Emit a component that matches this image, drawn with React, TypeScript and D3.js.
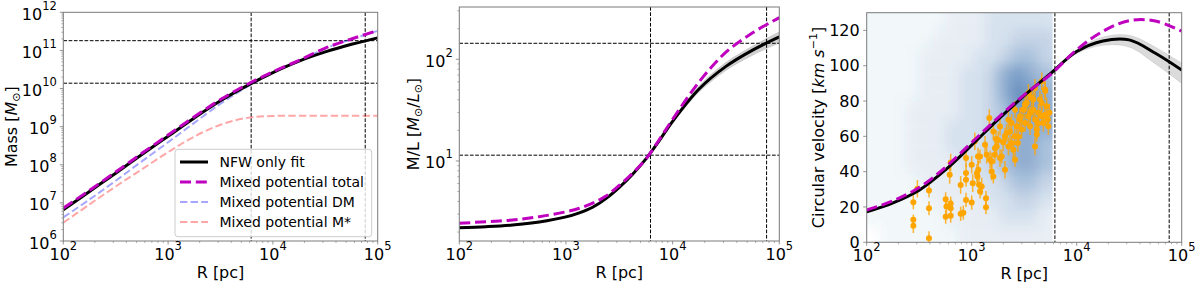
import React from 'react';
import * as d3 from 'd3';

const FONT = "'DejaVu Sans', sans-serif";

// ---------- DATA ----------
const gridR = [100, 178, 316, 562, 1000, 1778, 3162, 5623, 10000, 17783, 31623, 56234, 100000];

// Panel 1: enclosed mass, log10(M / Msun)
const logMassNFW = [6.82, 7.30, 7.78, 8.27, 8.75, 9.23, 9.68, 10.07, 10.42, 10.72, 10.96, 11.16, 11.33];
const logMassTotal = [6.86, 7.33, 7.81, 8.30, 8.78, 9.26, 9.71, 10.10, 10.44, 10.74, 11.06, 11.30, 11.52];
const logMassDM = [6.62, 7.09, 7.58, 8.09, 8.59, 9.10, 9.60, 10.04, 10.41, 10.725, 11.053, 11.296, 11.514];
const logMassStar = [6.48, 6.96, 7.43, 7.88, 8.33, 8.74, 9.05, 9.23, 9.28, 9.285, 9.285, 9.285, 9.285];

// Panel 2: mass-to-light ratio, log10(M/L), on a finer radius grid
const mlR = [100, 178, 316, 562, 1000, 1334, 1778, 2371, 3162, 4217, 5623, 7499, 10000, 17783, 31623, 56234, 100000];
const logMLNFW = [0.344, 0.354, 0.37, 0.40, 0.45, 0.49, 0.545, 0.63, 0.74, 0.87, 1.02, 1.20, 1.39, 1.71, 1.93, 2.09, 2.22];
const logMLNFWLow = [0.336, 0.346, 0.362, 0.392, 0.442, 0.482, 0.537, 0.622, 0.732, 0.86, 1.005, 1.185, 1.37, 1.68, 1.89, 2.04, 2.16];
const logMLNFWHigh = [0.352, 0.362, 0.378, 0.408, 0.458, 0.498, 0.553, 0.638, 0.748, 0.88, 1.035, 1.215, 1.41, 1.74, 1.97, 2.13, 2.27];
const logMLTotal = [0.387, 0.403, 0.42, 0.452, 0.50, 0.535, 0.585, 0.655, 0.76, 0.88, 1.02, 1.21, 1.41, 1.78, 2.07, 2.26, 2.41];

// Panel 3: circular velocity (km/s)
const vcNFW = [17.2, 22.3, 29.5, 41, 55, 69.5, 83, 95.5, 108, 114.0, 114.6, 107, 97.5];
const vcNFWLow = [16.9, 22.0, 29.1, 40.6, 54.6, 69.1, 82.6, 95, 106.8, 111.5, 110.5, 101, 90];
const vcNFWHigh = [17.5, 22.6, 29.9, 41.4, 55.4, 69.9, 83.4, 96, 109.2, 116.3, 117.2, 110.5, 101.5];
const vcTotal = [18.3, 23.5, 31, 42.5, 56.5, 70.5, 83.5, 95, 109, 119.5, 125.5, 125.3, 119.5];

// reference lines
const refR = [6200, 76000];
const refMass = [1.8e11, 1.38e10];
const refML = [143.6, 11.4];

// observed points (R [pc], v [km/s], error)
const obsR = [278, 278, 278, 304, 392, 392, 392, 565, 575, 565, 631, 617, 631, 631, 631, 785, 785, 832, 883, 883,
  883, 883, 1000, 1000, 1023, 1072, 1122, 1135, 1148, 1156, 1175, 1199, 1202, 1245, 1340, 1368, 1368, 1390, 1472, 1496,
  1549, 1549, 1607, 1607, 1660, 1667, 1706, 1730, 1795, 1862, 1862, 1932, 1995, 2075, 2075, 2153, 2234, 2239, 2317, 2399,
  2404, 2495, 2570, 2588, 2588, 2692, 2754, 2780, 2884, 2884, 2992, 3090, 3221, 3221, 3342, 3467, 3467, 3597, 3597, 3715,
  3864, 3864, 4009, 4009, 4009, 4169, 4169, 4315, 4315, 4467, 4645, 4645, 4645, 4819, 4989, 4989, 5012, 5176, 5297, 5370, 5495];
const obsV = [22.7, 12.7, 9.3, 30.3, 29.3, 19.3, 2.3, 24.4, 20.2, 14.5, 45.2, 38.2, 22.0, 19.3, 15.0, 32.5, 16.1, 16.8, 47.7, 39.2,
  35.4, 24.0, 22.5, 43.9, 33.5, 57.2, 39.2, 37.3, 48.6, 41.1, 32.6, 48.6, 28.8, 31.6, 55.2, 25.0, 19.9, 49.6, 70.4, 46.8,
  45.8, 40.1, 37.3, 62.8, 49.6, 53.3, 58.5, 54.3, 57.9, 47.7, 65.5, 48.6, 56.6, 59.8, 41.1, 61.9, 69.4, 54.3, 62.8, 67.6,
  56.2, 52.4, 60.0, 75.1, 46.8, 65.7, 56.2, 59.8, 71.3, 69.5, 63.8, 75.1, 67.6, 77.9, 78.9, 71.4, 84.6, 65.7, 73.2, 81.8,
  75.1, 80.8, 69.5, 87.4, 54.3, 63.8, 61.0, 73.3, 67.4, 80.8, 71.4, 78.9, 91.2, 67.6, 86.5, 72.2, 85.6, 77.0, 69.5, 65.7, 73.3];
const obsErr = [4, 3, 4, 5, 4, 4, 4, 4, 5, 4, 5, 5, 4, 5, 4, 5, 4, 4, 5, 5,
  4, 4, 4, 5, 5, 5, 5, 4, 5, 5, 5, 4, 4, 5, 5, 4, 4, 5, 5, 5,
  5, 5, 4, 5, 5, 5, 5, 4, 5, 5, 5, 4, 5, 5, 5, 5, 5, 5, 5, 5,
  4, 5, 5, 5, 4, 5, 5, 4, 5, 5, 5, 5, 5, 5, 5, 5, 5, 5, 4, 5,
  5, 5, 5, 5, 5, 5, 4, 5, 5, 5, 5, 5, 5, 5, 5, 5, 5, 5, 5, 5, 5];

// background cloud density (rows: v bins from top 120-130 down to 0-10; cols: log10 R bins 2.0..3.75 step 0.125)
const cloudLogR = [2.0, 2.125, 2.25, 2.375, 2.5, 2.625, 2.75, 2.875, 3.0, 3.125, 3.25, 3.375, 3.5, 3.625, 3.75];
const cloudV = [130, 120, 110, 100, 90, 80, 70, 60, 50, 40, 30, 20, 10, 0];
const cloudDensity = [
  [1, 1, 1, 1, 1, 1, 2, 2, 2, 3, 3, 3, 3, 3],
  [1, 1, 1, 1, 1, 2, 2, 2, 2, 3, 3, 4, 4, 4],
  [1, 1, 1, 1, 2, 2, 2, 2, 3, 3, 4, 5, 5, 4],
  [1, 1, 1, 1, 2, 2, 2, 3, 3, 4, 6, 7, 6, 5],
  [1, 1, 1, 1, 2, 2, 2, 3, 3, 4, 6, 8, 7, 6],
  [1, 1, 1, 2, 2, 2, 2, 3, 3, 4, 5, 7, 7, 6],
  [1, 1, 1, 2, 2, 2, 3, 3, 3, 4, 5, 6, 6, 6],
  [1, 1, 1, 2, 2, 2, 3, 3, 3, 4, 5, 6, 6, 5],
  [1, 1, 1, 2, 2, 2, 2, 3, 3, 4, 5, 6, 6, 5],
  [1, 1, 1, 1, 2, 2, 2, 2, 3, 3, 4, 5, 5, 4],
  [1, 1, 1, 1, 1, 2, 2, 2, 2, 3, 3, 4, 4, 3],
  [1, 1, 1, 1, 1, 1, 2, 2, 2, 2, 3, 3, 3, 2],
  [0, 1, 1, 1, 1, 1, 1, 2, 2, 2, 2, 2, 2, 2],
];
const cloudOpacity = [0, 0.05, 0.11, 0.18, 0.27, 0.38, 0.5, 0.6, 0.7];

const xTickExps = [2, 3, 4, 5];
const massTickExps = [6, 7, 8, 9, 10, 11, 12];
const mlTickExps = [1, 2];
const vTicks = [0, 20, 40, 60, 80, 100, 120];

const legendLabels = ['NFW only fit', 'Mixed potential total', 'Mixed potential DM', 'Mixed potential M*'];

// ---------- LAYOUT ----------
const P1 = { x0: 63.3, x1: 377.7, y0: 12.3, y1: 241 };
const P2 = { x0: 459.3, x1: 779.3, y0: 7, y1: 241 };
const P3 = { x0: 866.7, x1: 1181.7, y0: 12.7, y1: 242.3 };

const FRAME = '#7a7a7a';
const MAG = '#bf00bf';

type Sc = (v: number) => number;

function minorLog(lo: number, hi: number): number[] {
  const out: number[] = [];
  for (let e = Math.floor(Math.log10(lo)); e <= Math.ceil(Math.log10(hi)); e++) {
    for (let k = 2; k <= 9; k++) {
      const v = k * Math.pow(10, e);
      if (v >= lo * 1.0001 && v <= hi * 0.9999) out.push(v);
    }
  }
  return out;
}

function PowLabel({ x, y, exp, anchor }: { x: number; y: number; exp: number; anchor: string }) {
  return (
    <text x={x} y={y} textAnchor={anchor} fontFamily={FONT} fontSize={16} fill="#000">
      <tspan>10</tspan>
      <tspan dy={-10} fontSize={11.5}>{exp}</tspan>
    </text>
  );
}

function Frame({ p }: { p: typeof P1 }) {
  return <rect x={p.x0} y={p.y0} width={p.x1 - p.x0} height={p.y1 - p.y0} fill="none" stroke={FRAME} strokeWidth={1} />;
}

function LogXAxis({ p, x }: { p: typeof P1; x: any }) {
  const minors = minorLog(100, 1e5);
  return (
    <g>
      {minors.map((v, i) => (
        <line key={'m' + i} x1={x(v)} x2={x(v)} y1={p.y1} y2={p.y1 + 2} stroke={FRAME} strokeWidth={0.6} />
      ))}
      {xTickExps.map((e) => (
        <g key={e}>
          <line x1={x(Math.pow(10, e))} x2={x(Math.pow(10, e))} y1={p.y1} y2={p.y1 + 3.5} stroke={FRAME} strokeWidth={0.8} />
          <PowLabel x={x(Math.pow(10, e))} y={p.y1 + 19} exp={e} anchor="middle" />
        </g>
      ))}
      <text x={(p.x0 + p.x1) / 2} y={p.y1 + 37} textAnchor="middle" fontFamily={FONT} fontSize={16}>R [pc]</text>
    </g>
  );
}

function LogYAxis({ p, y, exps, lo, hi }: { p: typeof P1; y: any; exps: number[]; lo: number; hi: number }) {
  const minors = minorLog(lo, hi);
  return (
    <g>
      {minors.map((v, i) => (
        <line key={'m' + i} x1={p.x0 - 2} x2={p.x0} y1={y(v)} y2={y(v)} stroke={FRAME} strokeWidth={0.6} />
      ))}
      {exps.map((e) => (
        <g key={e}>
          <line x1={p.x0 - 3.5} x2={p.x0} y1={y(Math.pow(10, e))} y2={y(Math.pow(10, e))} stroke={FRAME} strokeWidth={0.8} />
          <PowLabel x={p.x0 - 6.5} y={y(Math.pow(10, e)) + 7.5} exp={e} anchor="end" />
        </g>
      ))}
    </g>
  );
}

export default function App() {
  // scales
  const x1 = d3.scaleLog().domain([100, 1e5]).range([P1.x0, P1.x1]);
  const y1 = d3.scaleLog().domain([1e6, 1e12]).range([P1.y1, P1.y0]);
  const x2 = d3.scaleLog().domain([100, 1e5]).range([P2.x0, P2.x1]);
  const y2 = d3.scaleLog().domain([Math.pow(10, 0.213), Math.pow(10, 2.514)]).range([P2.y1, P2.y0]);
  const x3 = d3.scaleLog().domain([100, 1e5]).range([P3.x0, P3.x1]);
  const y3 = d3.scaleLinear().domain([0, 130]).range([P3.y1, P3.y0]);

  const mkLine = (xs: Sc, ys: Sc, rs: number[], vals: number[], tr: (v: number) => number) =>
    d3.line<number>()
      .x((_, i) => xs(rs[i]))
      .y((v) => ys(tr(v)))
      .curve(d3.curveCatmullRom.alpha(0.5))(vals) as string;

  const mkArea = (xs: Sc, ys: Sc, rs: number[], lo: number[], hi: number[], tr: (v: number) => number) =>
    d3.area<number>()
      .x((_, i) => xs(rs[i]))
      .y0((_, i) => ys(tr(lo[i])))
      .y1((_, i) => ys(tr(hi[i])))
      .curve(d3.curveCatmullRom.alpha(0.5))(rs) as string;

  const pow10 = (v: number) => Math.pow(10, v);
  const ident = (v: number) => v;

  // cloud rects
  const cloudRects: any[] = [];
  for (let r = 0; r < cloudDensity.length; r++) {
    for (let c = 0; c < cloudDensity[r].length; c++) {
      const d = cloudDensity[r][c];
      if (d <= 0) continue;
      let lr0 = cloudLogR[c];
      let lr1 = cloudLogR[c + 1];
      if (c === 0) lr0 -= 0.15;
      if (c === cloudDensity[r].length - 1) lr1 += 0.1;
      let vTop = cloudV[r];
      let vBot = cloudV[r + 1];
      if (r === 0) vTop += 15;
      if (r === cloudDensity.length - 1) vBot -= 15;
      const xa = x3(pow10(lr0));
      const xb = x3(pow10(lr1));
      const ya = y3(vTop);
      const yb = y3(vBot);
      cloudRects.push(
        <rect key={r + '-' + c} x={xa} y={ya} width={xb - xa + 0.5} height={yb - ya + 0.5}
          fill="rgb(40,98,165)" fillOpacity={cloudOpacity[d]} />
      );
    }
  }
  const cloudClipRight = x3(pow10(3.77));

  const legendRows = [
    { stroke: '#000', dash: undefined, w: 3, op: 1 },
    { stroke: MAG, dash: '11,4.8', w: 3, op: 1 },
    { stroke: 'blue', dash: '7.4,3.2', w: 2, op: 0.35 },
    { stroke: 'red', dash: '7.4,3.2', w: 2, op: 0.35 },
  ];

  return (
    <svg width={1200} height={287} style={{ position: 'absolute', left: 0, top: 0, background: '#fff' }}>
      <defs>
        <clipPath id="c1"><rect x={P1.x0} y={P1.y0} width={P1.x1 - P1.x0} height={P1.y1 - P1.y0} /></clipPath>
        <clipPath id="c2"><rect x={P2.x0} y={P2.y0} width={P2.x1 - P2.x0} height={P2.y1 - P2.y0} /></clipPath>
        <clipPath id="c3"><rect x={P3.x0} y={P3.y0} width={P3.x1 - P3.x0} height={P3.y1 - P3.y0} /></clipPath>
        <clipPath id="cloudclip"><rect x={P3.x0} y={P3.y0} width={cloudClipRight - P3.x0} height={P3.y1 - P3.y0} /></clipPath>
        <filter id="blur" x="-20%" y="-20%" width="140%" height="140%">
          <feGaussianBlur stdDeviation="6" />
        </filter>
      </defs>
      <rect x={0} y={0} width={1200} height={287} fill="#fff" />

      {/* ---------------- Panel 1 ---------------- */}
      <g clipPath="url(#c1)">
        {refR.map((r, i) => (
          <line key={'v' + i} x1={x1(r)} x2={x1(r)} y1={P1.y0} y2={P1.y1} stroke="#000" strokeWidth={1} strokeDasharray="3.7,1.6" />
        ))}
        {refMass.map((m, i) => (
          <line key={'h' + i} x1={P1.x0} x2={P1.x1} y1={y1(m)} y2={y1(m)} stroke="#000" strokeWidth={1} strokeDasharray="3.7,1.6" />
        ))}
        <path d={mkLine(x1, y1, gridR, logMassStar, pow10)} fill="none" stroke="red" strokeOpacity={0.35} strokeWidth={2} strokeDasharray="7.4,3.2" />
        <path d={mkLine(x1, y1, gridR, logMassDM, pow10)} fill="none" stroke="blue" strokeOpacity={0.35} strokeWidth={2} strokeDasharray="7.4,3.2" />
        <path d={mkLine(x1, y1, gridR, logMassNFW, pow10)} fill="none" stroke="#000" strokeWidth={3} />
        <path d={mkLine(x1, y1, gridR, logMassTotal, pow10)} fill="none" stroke={MAG} strokeWidth={3} strokeDasharray="11,4.8" />
      </g>
      <Frame p={P1} />
      <LogXAxis p={P1} x={x1} />
      <LogYAxis p={P1} y={y1} exps={massTickExps} lo={1e6} hi={1e12} />
      <text transform={`translate(17,${(P1.y0 + P1.y1) / 2}) rotate(-90)`} textAnchor="middle" fontFamily={FONT} fontSize={16}>
        Mass [<tspan fontStyle="italic">M</tspan><tspan dy={3} fontSize={11}>⊙</tspan><tspan dy={-3}>]</tspan>
      </text>
      {/* legend */}
      <g>
        <rect x={175} y={149.3} width={196.7} height={87.4} rx={3} fill="#fff" fillOpacity={0.8} stroke="#cccccc" strokeWidth={1} />
        {legendLabels.map((lab, i) => {
          const cy = 162 + i * 20;
          const st = legendRows[i];
          return (
            <g key={lab}>
              <line x1={180} x2={208} y1={cy} y2={cy} stroke={st.stroke} strokeOpacity={st.op} strokeWidth={st.w} strokeDasharray={st.dash} />
              <text x={219.5} y={cy + 5} fontFamily={FONT} fontSize={14}>{lab}</text>
            </g>
          );
        })}
      </g>

      {/* ---------------- Panel 2 ---------------- */}
      <g clipPath="url(#c2)">
        {refR.map((r, i) => (
          <line key={'v' + i} x1={x2(r)} x2={x2(r)} y1={P2.y0} y2={P2.y1} stroke="#000" strokeWidth={1} strokeDasharray="3.7,1.6" />
        ))}
        {refML.map((m, i) => (
          <line key={'h' + i} x1={P2.x0} x2={P2.x1} y1={y2(m)} y2={y2(m)} stroke="#000" strokeWidth={1} strokeDasharray="3.7,1.6" />
        ))}
        <path d={mkArea(x2, y2, mlR, logMLNFWLow, logMLNFWHigh, pow10)} fill="#000" fillOpacity={0.18} stroke="#000" strokeOpacity={0.12} strokeWidth={0.8} />
        <path d={mkLine(x2, y2, mlR, logMLNFW, pow10)} fill="none" stroke="#000" strokeWidth={3} />
        <path d={mkLine(x2, y2, mlR, logMLTotal, pow10)} fill="none" stroke={MAG} strokeWidth={3} strokeDasharray="11,4.8" />
      </g>
      <Frame p={P2} />
      <LogXAxis p={P2} x={x2} />
      <LogYAxis p={P2} y={y2} exps={mlTickExps} lo={Math.pow(10, 0.213)} hi={Math.pow(10, 2.514)} />
      <text transform={`translate(419,${(P2.y0 + P2.y1) / 2}) rotate(-90)`} textAnchor="middle" fontFamily={FONT} fontSize={16}>
        M/L [<tspan fontStyle="italic">M</tspan><tspan dy={3} fontSize={11}>⊙</tspan><tspan dy={-3}>/</tspan><tspan fontStyle="italic">L</tspan><tspan dy={3} fontSize={11}>⊙</tspan><tspan dy={-3}>]</tspan>
      </text>

      {/* ---------------- Panel 3 ---------------- */}
      <g clipPath="url(#c3)">
        <g clipPath="url(#cloudclip)">
          <g filter="url(#blur)">{cloudRects}</g>
        </g>
        {refR.map((r, i) => (
          <line key={'v' + i} x1={x3(r)} x2={x3(r)} y1={P3.y0} y2={P3.y1} stroke="#000" strokeWidth={1} strokeDasharray="3.7,1.6" />
        ))}
        {obsR.map((r, i) => (
          <line key={'e' + i} x1={x3(r)} x2={x3(r)} y1={y3(obsV[i] - obsErr[i])} y2={y3(obsV[i] + obsErr[i])}
            stroke="orange" strokeOpacity={0.8} strokeWidth={1.5} />
        ))}
        {obsR.map((r, i) => (
          <circle key={'p' + i} cx={x3(r)} cy={y3(obsV[i])} r={3} fill="orange" />
        ))}
        <path d={mkArea(x3, y3, gridR, vcNFWLow, vcNFWHigh, ident)} fill="#000" fillOpacity={0.14} stroke="#000" strokeOpacity={0.1} strokeWidth={0.8} />
        <path d={mkLine(x3, y3, gridR, vcNFW, ident)} fill="none" stroke="#000" strokeWidth={3} />
        <path d={mkLine(x3, y3, gridR, vcTotal, ident)} fill="none" stroke={MAG} strokeWidth={3} strokeDasharray="11,4.8" />
      </g>
      <Frame p={P3} />
      <LogXAxis p={P3} x={x3} />
      <g>
        {vTicks.map((v) => (
          <g key={v}>
            <line x1={P3.x0 - 3.5} x2={P3.x0} y1={y3(v)} y2={y3(v)} stroke={FRAME} strokeWidth={0.8} />
            <text x={P3.x0 - 7} y={y3(v) + 5.8} textAnchor="end" fontFamily={FONT} fontSize={16}>{v}</text>
          </g>
        ))}
      </g>
      <text transform={`translate(824,${(P3.y0 + P3.y1) / 2}) rotate(-90)`} textAnchor="middle" fontFamily={FONT} fontSize={16}>
        Circular velocity [<tspan fontStyle="italic">km</tspan><tspan fontStyle="italic"> s</tspan><tspan dy={-7} fontSize={11}>−1</tspan><tspan dy={7}>]</tspan>
      </text>
    </svg>
  );
}
